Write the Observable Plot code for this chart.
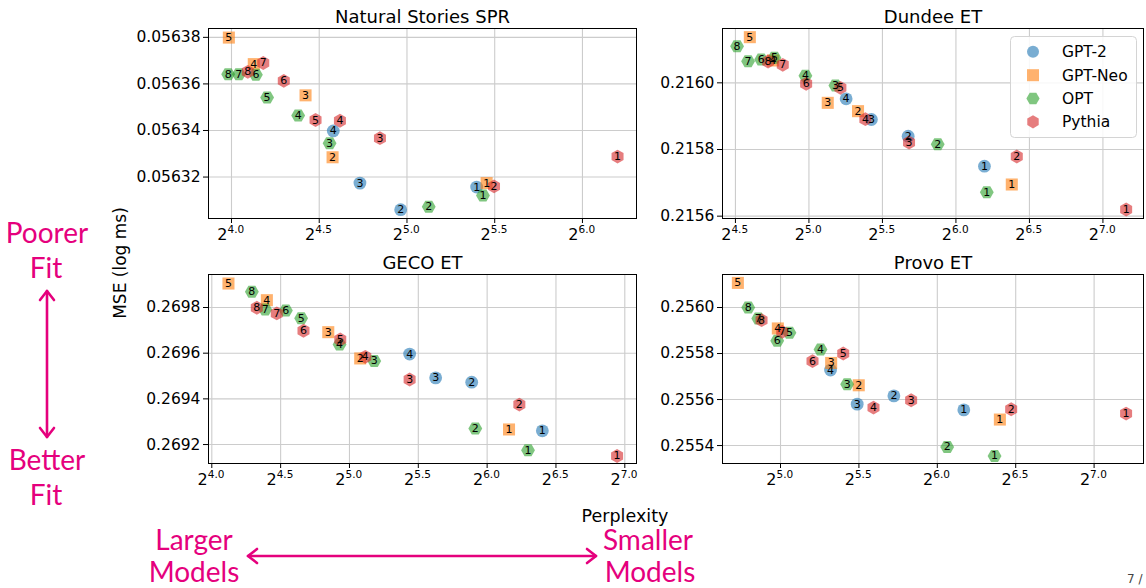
<!DOCTYPE html>
<html><head><meta charset="utf-8">
<script src="https://cdn.jsdelivr.net/npm/d3@7"></script>
<script src="https://cdn.jsdelivr.net/npm/@observablehq/plot@0.6"></script>
<style>
body{margin:0;background:#fff;}
#page{position:relative;width:1146px;height:588px;overflow:hidden;background:#fff;font-family:"DejaVu Sans",sans-serif;}
.panel{position:absolute;}
#overlay{position:absolute;left:0;top:0;pointer-events:none;}
</style></head><body><div id="page"></div>
<script>
// ---- shared ----
const families = ["GPT-2", "GPT-Neo", "OPT", "Pythia"];
const famColors = ["#1f77b4", "#ff7f0e", "#2ca02c", "#d62728"];
const gpt2Labels = [1, 2, 3, 4];
const neoLabels = [1, 2, 3, 4, 5];
const optLabels = [1, 2, 3, 4, 5, 6, 7, 8];
const pythiaLabels = [1, 2, 3, 4, 5, 6, 7, 8];

// x values are log2(perplexity)
// ---- Natural Stories SPR ----
const nsXTicks = [4.0, 4.5, 5.0, 5.5, 6.0];
const nsYTicks = [0.05632, 0.05634, 0.05636, 0.05638];
const nsGpt2X = [5.397, 4.964, 4.732, 4.580];
const nsGpt2Y = [0.0563157, 0.0563060, 0.0563174, 0.0563398];
const nsNeoX = [5.454, 4.576, 4.422, 4.127, 3.985];
const nsNeoY = [0.0563174, 0.0563285, 0.0563551, 0.0563685, 0.0563799];
const nsOptX = [5.433, 5.124, 4.559, 4.380, 4.203, 4.139, 4.042, 3.981];
const nsOptY = [0.0563121, 0.0563072, 0.0563345, 0.0563464, 0.0563542, 0.0563639, 0.0563642, 0.0563642];
const nsPythiaX = [6.200, 5.496, 4.846, 4.618, 4.479, 4.298, 4.181, 4.093];
const nsPythiaY = [0.0563288, 0.0563160, 0.0563367, 0.0563442, 0.0563445, 0.0563613, 0.0563690, 0.0563652];

// ---- Dundee ET ----
const dnXTicks = [4.5, 5.0, 5.5, 6.0, 6.5, 7.0];
const dnYTicks = [0.2156, 0.2158, 0.2160];
const dnGpt2X = [6.194, 5.675, 5.425, 5.253];
const dnGpt2Y = [0.215750, 0.215840, 0.215890, 0.215952];
const dnNeoX = [6.380, 5.334, 5.128, 4.756, 4.598];
const dnNeoY = [0.215695, 0.215915, 0.215940, 0.216067, 0.216137];
const dnOptX = [6.210, 5.876, 5.180, 4.976, 4.765, 4.675, 4.586, 4.511];
const dnOptY = [0.215672, 0.215816, 0.215992, 0.216021, 0.216075, 0.216070, 0.216065, 0.216110];
const dnPythiaX = [7.158, 6.414, 5.681, 5.384, 5.214, 4.981, 4.822, 4.722];
const dnPythiaY = [0.215620, 0.215779, 0.215821, 0.215891, 0.215985, 0.215997, 0.216054, 0.216064];

// ---- GECO ET ----
const gcXTicks = [4.0, 4.5, 5.0, 5.5, 6.0, 6.5, 7.0];
const gcYTicks = [0.2692, 0.2694, 0.2696, 0.2698];
const gcGpt2X = [6.401, 5.888, 5.626, 5.437];
const gcGpt2Y = [0.269260, 0.269473, 0.269492, 0.269596];
const gcNeoX = [6.159, 5.078, 4.846, 4.400, 4.121];
const gcNeoY = [0.269266, 0.269577, 0.269692, 0.269832, 0.269905];
const gcOptX = [6.297, 5.914, 5.180, 4.928, 4.649, 4.538, 4.388, 4.291];
const gcOptY = [0.269175, 0.269270, 0.269566, 0.269638, 0.269753, 0.269787, 0.269791, 0.269869];
const gcPythiaX = [6.944, 6.234, 5.437, 5.115, 4.933, 4.666, 4.472, 4.327];
const gcPythiaY = [0.269150, 0.269375, 0.269485, 0.269584, 0.269660, 0.269698, 0.269774, 0.269799];

// ---- Provo ET ----
const pvXTicks = [5.0, 5.5, 6.0, 6.5, 7.0];
const pvYTicks = [0.2554, 0.2556, 0.2558, 0.2560];
const pvGpt2X = [6.169, 5.723, 5.489, 5.319];
const pvGpt2Y = [0.255555, 0.255616, 0.255580, 0.255728];
const pvNeoX = [6.399, 5.499, 5.323, 4.983, 4.728];
const pvNeoY = [0.255513, 0.255662, 0.255759, 0.255909, 0.256107];
const pvOptX = [6.365, 6.063, 5.425, 5.255, 5.057, 4.979, 4.858, 4.794];
const pvOptY = [0.255355, 0.255394, 0.255667, 0.255817, 0.255890, 0.255855, 0.255952, 0.256000];
const pvPythiaX = [7.204, 6.471, 5.833, 5.593, 5.400, 5.204, 5.011, 4.879];
const pvPythiaY = [0.255539, 0.255558, 0.255597, 0.255565, 0.255800, 0.255767, 0.255894, 0.255945];

const famLabels = [gpt2Labels, neoLabels, optLabels, pythiaLabels];

// flat-top hexagon (matplotlib "H")
const hexFlat = {
  draw(ctx, size) {
    const rx = Math.sqrt(size / Math.PI), ry = rx * 2 / Math.sqrt(3);
    ctx.moveTo(ry, 0); ctx.lineTo(ry / 2, rx); ctx.lineTo(-ry / 2, rx);
    ctx.lineTo(-ry, 0); ctx.lineTo(-ry / 2, -rx); ctx.lineTo(ry / 2, -rx); ctx.closePath();
  }
};
const famSymbols = ["circle", "square", hexFlat, "hexagon"];
const famR = [6.4, 6.8, 6.0, 6.0];

const panels = [
  {title: "Natural Stories SPR", left: 100, top: 0, width: 550, height: 250, mL: 108, mR: 14, mT: 28, mB: 32,
   xDomain: [3.869, 6.308], yDomain: [0.0563022, 0.0563838], xTicks: nsXTicks, yTicks: nsYTicks, digits: 5,
   series: [[nsGpt2X, nsGpt2Y], [nsNeoX, nsNeoY], [nsOptX, nsOptY], [nsPythiaX, nsPythiaY]]},
  {title: "Dundee ET", left: 650, top: 0, width: 496, height: 250, mL: 72, mR: 3, mT: 28, mB: 32,
   xDomain: [4.412, 7.276], yDomain: [0.215593, 0.216163], xTicks: dnXTicks, yTicks: dnYTicks, digits: 4,
   series: [[dnGpt2X, dnGpt2Y], [dnNeoX, dnNeoY], [dnOptX, dnOptY], [dnPythiaX, dnPythiaY]]},
  {title: "GECO ET", left: 100, top: 250, width: 550, height: 240, mL: 108, mR: 14, mT: 24, mB: 27,
   xDomain: [3.976, 7.085], yDomain: [0.269117, 0.2699445], xTicks: gcXTicks, yTicks: gcYTicks, digits: 4,
   series: [[gcGpt2X, gcGpt2Y], [gcNeoX, gcNeoY], [gcOptX, gcOptY], [gcPythiaX, gcPythiaY]]},
  {title: "Provo ET", left: 650, top: 250, width: 496, height: 240, mL: 72, mR: 3, mT: 24, mB: 27,
   xDomain: [4.630, 7.315], yDomain: [0.255322, 0.2561435], xTicks: pvXTicks, yTicks: pvYTicks, digits: 4,
   series: [[pvGpt2X, pvGpt2Y], [pvNeoX, pvNeoY], [pvOptX, pvOptY], [pvPythiaX, pvPythiaY]]}
];

const page = document.getElementById("page");

for (const p of panels) {
  const rows = [];
  p.series.forEach(([xs, ys], f) => {
    xs.forEach((x, i) => rows.push({fam: f, x, y: ys[i], label: String(famLabels[f][i])}));
  });
  const dotMarks = families.map((_, f) =>
    Plot.dot(rows.filter(d => d.fam === f), {
      x: "x", y: "y", r: famR[f], symbol: famSymbols[f],
      fill: famColors[f], fillOpacity: 0.6, stroke: "none"
    }));
  const chart = Plot.plot({
    width: p.width, height: p.height,
    marginLeft: p.mL, marginRight: p.mR, marginTop: p.mT, marginBottom: p.mB,
    style: {fontFamily: "DejaVu Sans, sans-serif", fontSize: "15.5px", color: "#000", background: "transparent", overflow: "visible"},
    x: {domain: p.xDomain, label: null},
    y: {domain: p.yDomain, label: null},
    marks: [
      Plot.gridX(p.xTicks, {stroke: "#cccccc", strokeOpacity: 1, strokeWidth: 1.1}),
      Plot.gridY(p.yTicks, {stroke: "#cccccc", strokeOpacity: 1, strokeWidth: 1.1}),
      Plot.axisX(p.xTicks, {tickFormat: () => "", tickSize: 5, label: null}),
      Plot.axisY(p.yTicks, {tickFormat: d => d.toFixed(p.digits), tickSize: 5, tickPadding: 3, fontSize: 15.5, label: null}),
      Plot.text(p.xTicks, {x: d => d, text: () => "2", frameAnchor: "bottom", lineAnchor: "bottom",
        textAnchor: "end", dx: -4, dy: 21, fontSize: 16, fill: "#000"}),
      Plot.text(p.xTicks, {x: d => d, text: d => d.toFixed(1), frameAnchor: "bottom", lineAnchor: "bottom",
        textAnchor: "start", dx: -4, dy: 14.5, fontSize: 10.5, fill: "#000"}),
      ...dotMarks,
      Plot.text(rows, {x: "x", y: "y", text: "label", fontSize: 11, fill: "#000"}),
      Plot.frame({stroke: "#000", strokeWidth: 1}),
      Plot.text([p.title], {text: d => d, frameAnchor: "top", lineAnchor: "bottom", dy: -6, fontSize: 18, fill: "#000"})
    ]
  });
  const wrap = document.createElement("div");
  wrap.className = "panel";
  wrap.style.left = p.left + "px";
  wrap.style.top = p.top + "px";
  wrap.appendChild(chart);
  page.appendChild(wrap);
}

// ---- legend + annotations overlay ----
function hexPath(cx, cy, r, flat) {
  const pts = [];
  for (let k = 0; k < 6; k++) {
    const a = (flat ? 0 : 30) * Math.PI / 180 + k * Math.PI / 3;
    pts.push([cx + r * Math.cos(a), cy + r * Math.sin(a)]);
  }
  return "M" + pts.map(q => q[0].toFixed(2) + "," + q[1].toFixed(2)).join("L") + "Z";
}
const legendY = [51.7, 75.2, 98.5, 121.8];
const lx = 1033;
let legendSvg = `<rect x="1010.5" y="36.5" width="126" height="101" rx="4" fill="#fff" fill-opacity="0.85" stroke="#d4d4d4" stroke-width="1"/>`;
legendSvg += `<circle cx="${lx}" cy="${legendY[0]}" r="6" fill="${famColors[0]}" fill-opacity="0.6"/>`;
legendSvg += `<rect x="${lx - 6}" y="${legendY[1] - 6}" width="12" height="12" fill="${famColors[1]}" fill-opacity="0.6"/>`;
legendSvg += `<path d="${hexPath(lx, legendY[2], 6.6, true)}" fill="${famColors[2]}" fill-opacity="0.6"/>`;
legendSvg += `<path d="${hexPath(lx, legendY[3], 6.6, false)}" fill="${famColors[3]}" fill-opacity="0.6"/>`;
families.forEach((name, i) => {
  legendSvg += `<text x="1062" y="${legendY[i] + 5.6}" font-family="DejaVu Sans" font-size="15.5" fill="#000">${name}</text>`;
});

const mag = "#e5007d";
const annFont = `font-family="Lato, sans-serif" font-size="28" fill="${mag}" text-anchor="middle"`;
let annSvg = "";
[["Poorer", 47, 243], ["Fit", 46, 278], ["Better", 47, 470], ["Fit", 46, 505],
 ["Larger", 194, 550], ["Models", 194, 582], ["Smaller", 648, 550], ["Models", 650, 582]]
  .forEach(([t, x, y]) => { annSvg += `<text x="${x}" y="${y}" ${annFont}>${t}</text>`; });
const arr = `stroke="${mag}" stroke-width="2.6" fill="none" stroke-linecap="round" stroke-linejoin="round"`;
annSvg += `<line x1="47" y1="291" x2="47" y2="437" ${arr}/>`;
annSvg += `<polyline points="40,300 47,291 54,300" ${arr}/>`;
annSvg += `<polyline points="40,428 47,437 54,428" ${arr}/>`;
annSvg += `<line x1="248" y1="556" x2="596" y2="556" ${arr}/>`;
annSvg += `<polyline points="257,549 248,556 257,563" ${arr}/>`;
annSvg += `<polyline points="587,549 596,556 587,563" ${arr}/>`;
annSvg += `<text x="625" y="522" font-family="DejaVu Sans" font-size="17.5" fill="#000" text-anchor="middle">Perplexity</text>`;
annSvg += `<text transform="translate(126,263) rotate(-90)" font-family="DejaVu Sans" font-size="17" fill="#000" text-anchor="middle">MSE (log ms)</text>`;
annSvg += `<text x="1127" y="583" font-family="DejaVu Sans" font-size="12" fill="#444">7 /</text>`;

const overlay = document.createElementNS("http://www.w3.org/2000/svg", "svg");
overlay.setAttribute("id", "overlay");
overlay.setAttribute("width", "1146");
overlay.setAttribute("height", "588");
overlay.innerHTML = legendSvg + annSvg;
page.appendChild(overlay);
</script></body></html>
